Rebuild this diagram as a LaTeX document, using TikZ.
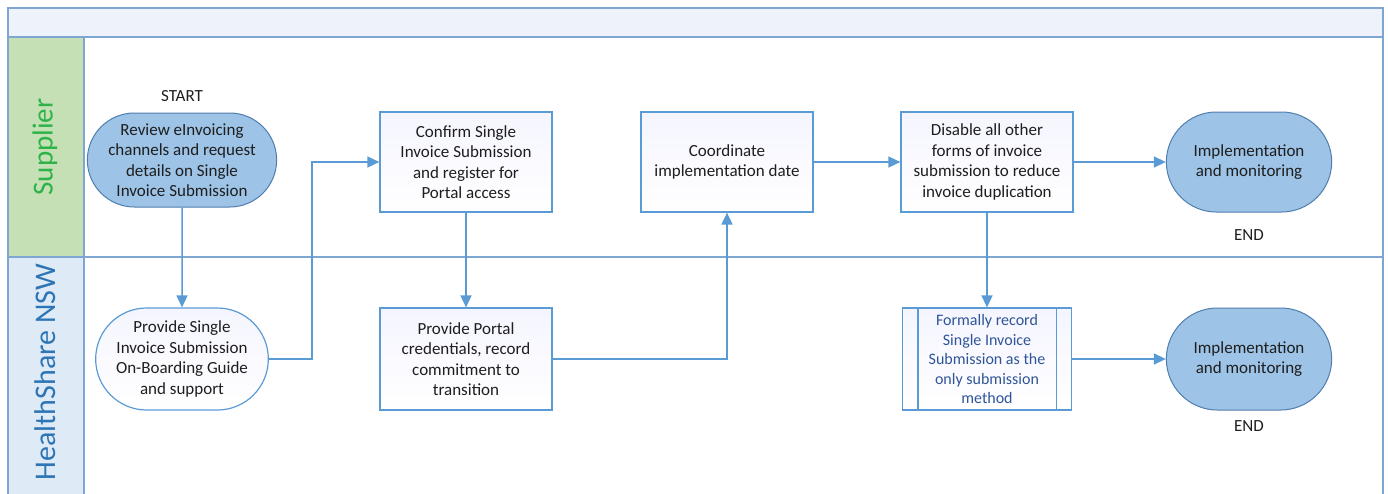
\documentclass[tikz,border=0pt]{standalone}
\usepackage{fontspec}
\setmainfont{Carlito}
\usetikzlibrary{shapes.misc,arrows.meta}

\definecolor{laneline}{HTML}{7FA6D3}
\definecolor{flowline}{HTML}{5B9BD5}
\definecolor{pillblue}{HTML}{9DC3E6}
\definecolor{pillborder}{HTML}{4F7EAE}
\definecolor{headfill}{HTML}{EEF2FA}
\definecolor{supfill}{HTML}{C5E0B4}
\definecolor{hsfill}{HTML}{DEEAF6}
\definecolor{suptext}{HTML}{2DB34A}
\definecolor{hstext}{HTML}{2E75B6}
\definecolor{boxtext}{HTML}{1E1E1E}
\definecolor{formtext}{HTML}{2F5597}

\tikzset{
  lane/.style={draw=laneline, line width=1.5pt},
  task/.style={draw=flowline, line width=1.2pt, minimum width=172pt, minimum height=100pt,
    align=center, text=boxtext, font=\fontsize{17}{20.5}\selectfont,
    top color=blue!4, bottom color=white},
  endpill/.style={rounded rectangle, draw=pillborder, line width=1pt, fill=pillblue,
    minimum width=172pt, minimum height=100pt, align=center, text=boxtext,
    font=\fontsize{17}{20.5}\selectfont},
  whitepill/.style={rounded rectangle, draw=flowline, line width=1.2pt,
    minimum width=168pt, minimum height=102pt, align=center, text=boxtext,
    font=\fontsize{17}{20.5}\selectfont, top color=blue!4, bottom color=white},
  tag/.style={text=boxtext, font=\fontsize{17}{20}\selectfont},
  flow/.style={draw=flowline, line width=1.5pt, -{Triangle[length=12pt,width=11pt]}}
}

\begin{document}
\begin{tikzpicture}[x=1pt,y=-1pt]
\useasboundingbox (0,0) rectangle (1388,493);
\clip (0,0) rectangle (1388,493);

% pool and lanes
\fill[headfill] (8,8) rectangle (1383,37);
\fill[supfill] (8,37) rectangle (84,257);
\fill[hsfill] (8,257) rectangle (84,500);
\draw[lane] (8,500) -- (8,8) -- (1383,8) -- (1383,500);
\draw[lane] (8,37) -- (1383,37);
\draw[lane] (8,257) -- (1383,257);
\draw[lane] (84,37) -- (84,500);
\node[rotate=90, text=suptext, font=\fontsize{29}{30}\selectfont] (suplabel) at (45,147) {Supplier};
\node[rotate=90, text=hstext, font=\fontsize{30}{30}\selectfont] (hslabel) at (45,372) {HealthShare NSW};

% supplier lane
\node[tag] (start) at (182,96) {START};
\node[endpill, minimum width=168pt, minimum height=94pt] (review) at (182,160)
  {Review eInvoicing\\channels and request\\details on Single\\Invoice Submission};
\node[task] (confirm) at (466,162) {Confirm Single\\Invoice Submission\\and register for\\Portal access};
\node[task] (coord) at (727,162) {Coordinate\\implementation date};
\node[task] (disable) at (987,162) {Disable all other\\forms of invoice\\submission to reduce\\invoice duplication};
\node[endpill] (impl1) at (1249,162) {Implementation\\and monitoring};
\node[tag] (end1) at (1249,235) {END};

% healthshare lane
\node[whitepill] (guide) at (182,359) {Provide Single\\Invoice Submission\\On-Boarding Guide\\and support};
\node[task, minimum height=102pt] (portal) at (466,359) {Provide Portal\\credentials, record\\commitment to\\transition};
\node[task, minimum width=169pt, minimum height=102pt, text=formtext,
  font=\fontsize{16}{19.5}\selectfont] (formal) at (987,359)
  {Formally record\\Single Invoice\\Submission as the\\only submission\\method};
\draw[draw=flowline, line width=1.2pt] ([xshift=16pt]formal.north west) -- ([xshift=16pt]formal.south west);
\draw[draw=flowline, line width=1.2pt] ([xshift=-16pt]formal.north east) -- ([xshift=-16pt]formal.south east);
\node[endpill, minimum height=102pt] (impl2) at (1249,359) {Implementation\\and monitoring};
\node[tag] (end2) at (1249,426) {END};

% connectors
\draw[flow] (review) -- (guide);
\draw[flow] (guide.east) -- (312,359) -- (312,162) -- (confirm.west);
\draw[flow] (confirm) -- (portal);
\draw[flow] (portal.east) -| (coord.south);
\draw[flow] (coord) -- (disable);
\draw[flow] (disable) -- (impl1);
\draw[flow] (disable) -- (formal);
\draw[flow] (formal) -- (impl2);

\end{tikzpicture}
\end{document}
